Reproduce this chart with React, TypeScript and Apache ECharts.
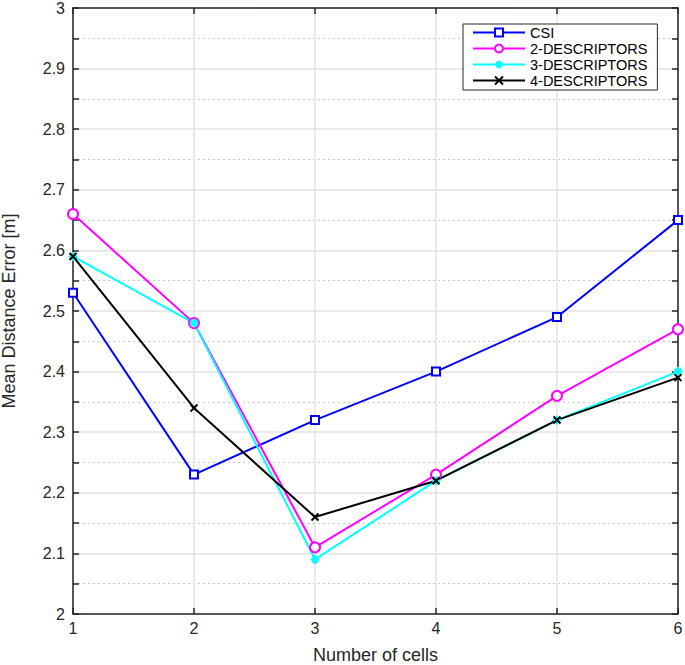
import React, { useEffect, useRef } from "react";
import * as echarts from "echarts";

const cells = [1, 2, 3, 4, 5, 6];
const csi = [2.53, 2.23, 2.32, 2.4, 2.49, 2.65];
const desc2 = [2.66, 2.48, 2.11, 2.23, 2.36, 2.47];
const desc3 = [2.59, 2.48, 2.09, 2.22, 2.32, 2.4];
const desc4 = [2.59, 2.34, 2.16, 2.22, 2.32, 2.39];
const seriesNames = ["CSI", "2-DESCRIPTORS", "3-DESCRIPTORS", "4-DESCRIPTORS"];

const FONT = "'Liberation Sans', Arial, sans-serif";

export default function App() {
  const ref = useRef<HTMLDivElement>(null);
  useEffect(() => {
    if (!ref.current) return;
    const chart = echarts.init(ref.current, undefined, { renderer: "svg" });
    const pair = (arr: number[]) => cells.map((c, i) => [c, arr[i]]);
    const asterisk = "path://M0,5L10,5M5,0L5,10M1.5,1.5L8.5,8.5M8.5,1.5L1.5,8.5";
    const cross = "path://M0,0L10,10M10,0L0,10";
    const mk = (name: string, data: number[], color: string, symbol: string, size: number) => ({
      type: "line",
      name,
      data: pair(data),
      xAxisIndex: 0,
      yAxisIndex: 0,
      symbol,
      symbolSize: size,
      showAllSymbol: true,
      lineStyle: { color, width: 2 },
      itemStyle: { color: symbol.startsWith("path") ? "none" : "#fff", borderColor: color, borderWidth: 2 },
      color,
      emphasis: { disabled: true },
    });
    const axisLineStyle = { lineStyle: { color: "#262626", width: 1.5 } };
    chart.setOption({
      animation: false,
      textStyle: { fontFamily: FONT },
      grid: { left: 73, right: 7, top: 8, bottom: 51, containLabel: false, outerBoundsMode: "none" },
      legend: {
        orient: "vertical",
        left: 463,
        top: 24,
        padding: [1, 10, 2, 9],
        itemGap: 1,
        itemWidth: 52,
        itemHeight: 10,
        borderColor: "#262626",
        borderWidth: 1,
        backgroundColor: "#fff",
        textStyle: { fontFamily: FONT, fontSize: 14.5, lineHeight: 15, color: "#000", padding: [0, 0, 0, 0] },
        data: seriesNames,
      },
      xAxis: [
        {
          type: "value",
          min: 1,
          max: 6,
          interval: 1,
          position: "bottom",
          name: "Number of cells",
          nameLocation: "middle",
          nameGap: 32,
          nameTextStyle: { fontSize: 18, color: "#262626", fontFamily: FONT },
          axisLine: axisLineStyle,
          axisTick: { inside: true, length: 6, lineStyle: { color: "#262626", width: 1.5 } },
          axisLabel: { fontSize: 16, color: "#262626", margin: 6, fontFamily: FONT },
          splitLine: { show: true, lineStyle: { color: "#e3e3e3", width: 1.5 } },
        },
        {
          type: "value",
          min: 1,
          max: 6,
          interval: 1,
          position: "top",
          axisLine: axisLineStyle,
          axisTick: { inside: true, length: 6, lineStyle: { color: "#262626", width: 1.5 } },
          axisLabel: { show: false },
          splitLine: { show: false },
        },
      ],
      yAxis: [
        {
          type: "value",
          min: 2,
          max: 3,
          interval: 0.1,
          position: "left",
          name: "Mean Distance Error [m]",
          nameLocation: "middle",
          nameGap: 55,
          nameTextStyle: { fontSize: 18, color: "#262626", fontFamily: FONT },
          axisLine: axisLineStyle,
          axisTick: { inside: true, length: 6, lineStyle: { color: "#262626", width: 1.5 } },
          minorTick: { show: true, splitNumber: 2, length: 6, lineStyle: { color: "#262626", width: 1.5 } },
          minorSplitLine: { show: true, lineStyle: { color: "#c8c8c8", width: 1, type: [2, 3] } },
          axisLabel: {
            fontSize: 16,
            color: "#262626",
            margin: 8,
            fontFamily: FONT,
            formatter: (v: number) => String(Math.round(v * 10) / 10),
          },
          splitLine: { show: true, lineStyle: { color: "#e3e3e3", width: 1.5 } },
        },
        {
          type: "value",
          min: 2,
          max: 3,
          interval: 0.1,
          position: "right",
          axisLine: axisLineStyle,
          axisTick: { inside: true, length: 6, lineStyle: { color: "#262626", width: 1.5 } },
          minorTick: { show: true, splitNumber: 2, length: 6, lineStyle: { color: "#262626", width: 1.5 } },
          axisLabel: { show: false },
          splitLine: { show: false },
        },
      ],
      series: [
        mk(seriesNames[0], csi, "#0000ff", "rect", 8),
        mk(seriesNames[1], desc2, "#ff00ff", "circle", 10),
        mk(seriesNames[2], desc3, "#00ffff", asterisk, 9),
        mk(seriesNames[3], desc4, "#000000", cross, 7),
      ],
    });
    return () => chart.dispose();
  }, []);
  return <div ref={ref} style={{ width: 685, height: 665, position: "absolute", left: 0, top: 0, background: "#fff" }} />;
}
